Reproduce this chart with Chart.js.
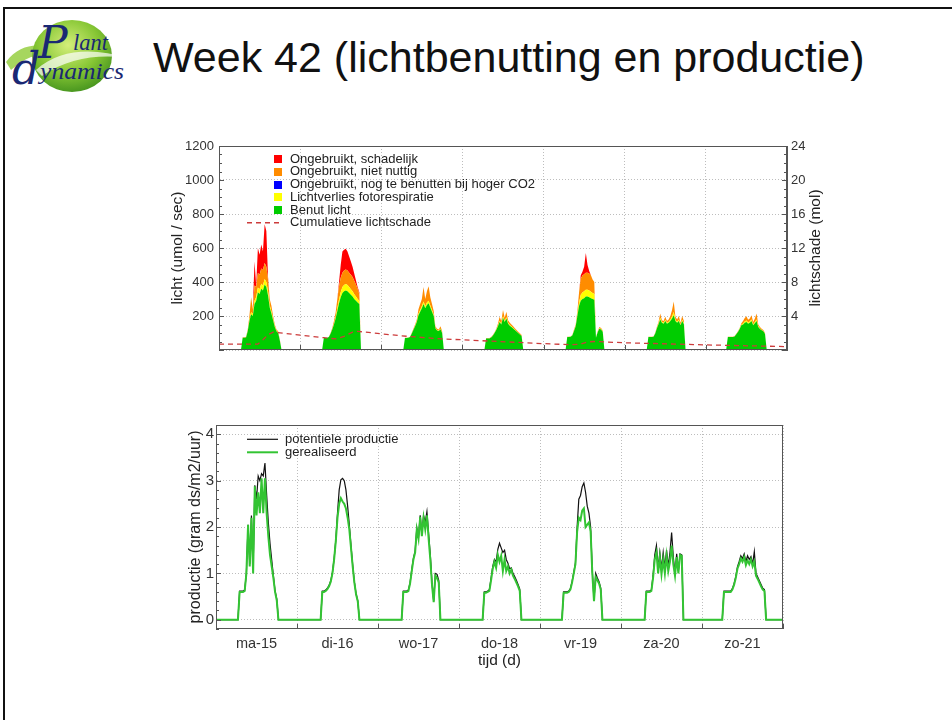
<!DOCTYPE html>
<html>
<head>
<meta charset="utf-8">
<title>Week 42 (lichtbenutting en productie)</title>
<script src="https://cdn.jsdelivr.net/npm/chart.js@4/dist/chart.umd.min.js"></script>
<style>
  body { margin: 0; background: #fff; font-family: 'Liberation Sans', Arial, sans-serif; }
  #slide { position: relative; width: 952px; height: 720px; overflow: hidden; background: #fff; }
  #edge { position: absolute; left: 3px; top: 7px; width: 980px; height: 760px; border-top: 2px solid #111; border-left: 2px solid #111; }
  #logo { position: absolute; left: 6px; top: 18px; }
  h1 { position: absolute; left: 153px; top: 36px; margin: 0; font-weight: normal; font-size: 43px; line-height: 43px; color: #111; white-space: nowrap; }
  canvas { position: absolute; }
  #lightChart { left: 150px; top: 128px; }
  #prodChart { left: 150px; top: 413px; }
</style>
</head>
<body>
<div id="slide">
  <div id="edge"></div>
  <svg id="logo" width="125" height="80" viewBox="0 0 125 80">
    <defs>
      <radialGradient id="ball" cx="0.45" cy="0.35" r="0.7">
        <stop offset="0" stop-color="#d4ee7a"/>
        <stop offset="0.55" stop-color="#86c634"/>
        <stop offset="1" stop-color="#3f8f1c"/>
      </radialGradient>
    </defs>
    <path d="M0 44 C 18 20, 44 26, 62 38 C 44 33, 24 34, 5 52 Z" fill="#a6d65e"/>
    <ellipse cx="66" cy="38" rx="40" ry="36" fill="url(#ball)"/>
    <path d="M30 52 C 55 30, 88 30, 122 40 C 92 36, 62 40, 36 58 Z" fill="#fff" opacity="0.7"/>
    <text x="32" y="40" font-family="'DejaVu Serif', serif" font-style="italic" font-size="44" fill="#1a2873">P</text>
    <text x="67" y="32" font-family="'Liberation Serif', serif" font-style="italic" font-size="24" textLength="35" lengthAdjust="spacingAndGlyphs" fill="#1a2873">lant</text>
    <text x="6" y="66" font-family="'DejaVu Serif', serif" font-style="italic" font-size="44" fill="#1a2873">d</text>
    <text x="34" y="61" font-family="'Liberation Serif', serif" font-style="italic" font-size="24" textLength="84" lengthAdjust="spacingAndGlyphs" fill="#1a2873">ynamics</text>
  </svg>
  <h1>Week 42 (lichtbenutting en productie)</h1>
  <canvas id="lightChart" width="700" height="226"></canvas>
  <canvas id="prodChart" width="700" height="272"></canvas>
</div>
<script>
Chart.defaults.font.family = "'Liberation Sans', Arial, sans-serif";
Chart.defaults.color = '#333';

const dayLabels = ['ma-15', 'di-16', 'wo-17', 'do-18', 'vr-19', 'za-20', 'zo-21'];
const dayTicks = [12, 36, 60, 84, 108, 132, 156];
// half-hour readings per day, 6:00 .. 19:00
const dayHours = [6, 6.5, 7, 7.5, 8, 8.5, 9, 9.5, 10, 10.5, 11, 11.5, 12, 12.5, 13, 13.5, 14, 14.5, 15, 15.5, 16, 16.5, 17, 17.5, 18, 18.5, 19];

// licht (umol / sec), one row per day
const benutLicht = [
  [0, 0, 72, 72, 74, 110, 170, 210, 200, 270, 290, 340, 330, 360, 350, 385, 370, 320, 250, 215, 175, 135, 110, 100, 55, 0, 0],
  [0, 0, 70, 70, 72, 76, 95, 120, 150, 185, 230, 275, 310, 335, 345, 350, 345, 335, 325, 315, 300, 290, 280, 270, 0, 0, 0],
  [0, 0, 70, 70, 72, 76, 96, 118, 140, 165, 205, 225, 245, 270, 245, 265, 275, 250, 225, 200, 128, 115, 112, 122, 100, 0, 0],
  [0, 0, 68, 68, 68, 73, 84, 100, 118, 140, 165, 150, 190, 165, 185, 155, 143, 135, 127, 117, 109, 100, 91, 82, 0, 0, 0],
  [0, 0, 76, 76, 78, 85, 112, 140, 200, 260, 290, 300, 305, 315, 315, 310, 305, 300, 295, 72, 105, 125, 120, 108, 0, 0, 0],
  [0, 0, 76, 76, 76, 78, 96, 127, 152, 180, 160, 155, 170, 155, 160, 170, 185, 205, 170, 160, 170, 145, 170, 152, 0, 0, 0],
  [0, 76, 76, 76, 76, 80, 92, 106, 124, 145, 150, 160, 165, 155, 160, 170, 145, 158, 170, 135, 124, 116, 110, 94, 0, 0, 0]
];
const fotorespiratie = [
  [0, 0, 0, 0, 0, 2, 8, 12, 12, 20, 22, 28, 27, 30, 30, 32, 30, 25, 15, 12, 8, 5, 3, 2, 0, 0, 0],
  [0, 0, 0, 0, 0, 0, 0, 0, 5, 8, 15, 22, 30, 35, 38, 38, 37, 35, 32, 30, 28, 25, 20, 18, 0, 0, 0],
  [0, 0, 0, 0, 0, 0, 0, 0, 3, 5, 8, 10, 12, 15, 12, 15, 15, 12, 10, 8, 3, 2, 2, 3, 2, 0, 0],
  [0, 0, 0, 0, 0, 0, 0, 1, 2, 4, 6, 5, 8, 6, 8, 5, 4, 4, 3, 3, 2, 2, 2, 1, 0, 0, 0],
  [0, 0, 0, 0, 0, 0, 2, 3, 10, 20, 35, 38, 40, 40, 40, 40, 38, 36, 35, 0, 1, 3, 3, 2, 0, 0, 0],
  [0, 0, 0, 0, 0, 0, 0, 2, 4, 8, 5, 5, 7, 5, 6, 8, 12, 18, 7, 6, 8, 5, 8, 6, 0, 0, 0],
  [0, 0, 0, 0, 0, 0, 0, 0, 2, 4, 6, 8, 9, 7, 7, 9, 5, 7, 10, 4, 3, 2, 2, 1, 0, 0, 0]
];
const nietNuttig = [
  [0, 0, 3, 3, 4, 8, 22, 88, 28, 90, 60, 85, 85, 90, 90, 95, 90, 70, 35, 33, 17, 10, 7, 8, 5, 0, 0],
  [0, 0, 0, 0, 0, 2, 5, 10, 15, 27, 55, 80, 85, 85, 85, 85, 85, 85, 85, 85, 80, 70, 60, 42, 0, 0, 0],
  [0, 0, 2, 2, 2, 2, 4, 7, 7, 10, 27, 35, 43, 85, 43, 65, 85, 48, 35, 22, 9, 8, 6, 15, 8, 0, 0],
  [0, 0, 2, 2, 2, 3, 4, 4, 5, 11, 24, 15, 37, 19, 32, 15, 13, 11, 10, 8, 7, 6, 5, 5, 0, 0, 0],
  [0, 0, 2, 2, 2, 3, 6, 7, 20, 60, 95, 100, 100, 100, 100, 100, 97, 79, 70, 3, 4, 7, 7, 5, 0, 0, 0],
  [0, 0, 2, 2, 2, 2, 4, 6, 9, 27, 10, 10, 18, 10, 14, 22, 38, 62, 18, 14, 22, 10, 22, 12, 0, 0, 0],
  [0, 2, 2, 2, 2, 2, 3, 4, 4, 9, 14, 20, 24, 16, 18, 26, 15, 20, 35, 11, 8, 7, 6, 5, 0, 0, 0]
];
const schadelijk = [
  [0, 0, 0, 0, 0, 0, 0, 0, 0, 140, 8, 147, 118, 140, 110, 228, 210, 15, 0, 0, 0, 0, 0, 0, 0, 0, 0],
  [0, 0, 0, 0, 0, 0, 0, 0, 0, 0, 0, 23, 75, 125, 122, 122, 113, 95, 78, 60, 42, 25, 10, 10, 0, 0, 0],
  [0, 0, 0, 0, 0, 0, 0, 0, 0, 0, 0, 0, 0, 0, 0, 0, 0, 0, 0, 0, 0, 0, 0, 0, 0, 0, 0],
  [0, 0, 0, 0, 0, 0, 0, 0, 0, 0, 0, 0, 0, 0, 0, 0, 0, 0, 0, 0, 0, 0, 0, 0, 0, 0, 0],
  [0, 0, 0, 0, 0, 0, 0, 0, 0, 0, 20, 22, 45, 115, 45, 15, 0, 0, 0, 0, 0, 0, 0, 0, 0, 0, 0],
  [0, 0, 0, 0, 0, 0, 0, 0, 0, 0, 0, 0, 0, 0, 0, 0, 0, 0, 0, 0, 0, 0, 0, 0, 0, 0, 0],
  [0, 0, 0, 0, 0, 0, 0, 0, 0, 0, 0, 0, 0, 0, 0, 0, 0, 0, 0, 0, 0, 0, 0, 0, 0, 0, 0]
];

// cumulatieve lichtschade (mol), right axis
const schadeHours = [0, 11.5, 13, 14.5, 16, 24, 31, 34.5, 37, 39.5, 41, 48, 56, 66, 72, 96, 104, 107, 109, 111, 120, 144, 168];
const schadeValues = [0.7, 0.7, 1.2, 1.8, 2.1, 1.75, 1.45, 1.3, 1.6, 2.1, 2.2, 1.9, 1.6, 1.3, 1.2, 0.75, 0.62, 0.7, 0.95, 1.0, 0.85, 0.6, 0.4];

// productie (gram ds/m2/uur)
const potentieel = [
  [0, 0, 0.62, 0.62, 0.62, 0.64, 1.0, 2.05, 1.2, 2.25, 1.1, 2.9, 2.6, 3.1, 3.0, 3.15, 3.1, 3.38, 2.7, 2.1, 1.65, 1.3, 0.95, 0.62, 0.45, 0, 0],
  [0, 0, 0, 0.62, 0.62, 0.64, 0.68, 0.74, 0.84, 1.02, 1.32, 1.72, 2.3, 2.8, 3.02, 3.05, 3.0, 2.8, 2.45, 2.05, 1.6, 1.18, 0.82, 0.56, 0.41, 0, 0],
  [0, 0, 0, 0.62, 0.62, 0.62, 0.64, 0.8, 1.08, 1.33, 1.48, 1.98, 1.78, 2.25, 1.85, 2.25, 2.1, 2.33, 1.85, 1.4, 0.8, 0.4, 1.0, 0.98, 0.85, 0, 0],
  [0, 0, 0, 0.6, 0.6, 0.62, 0.65, 0.9, 1.15, 1.3, 1.25, 1.52, 1.65, 1.55, 1.45, 1.5, 1.3, 1.22, 1.1, 1.12, 1.0, 0.93, 0.85, 0.76, 0.66, 0, 0],
  [0, 0, 0.6, 0.6, 0.6, 0.62, 0.67, 0.82, 1.02, 1.22, 2.0, 2.6, 2.68, 2.87, 2.95, 2.75, 2.45, 2.3, 2.0, 1.05, 0.42, 1.0, 0.9, 0.82, 0.68, 0, 0],
  [0, 0, 0, 0.62, 0.62, 0.62, 0.64, 0.95, 1.4, 1.6, 1.1, 1.45, 1.1, 1.45, 1.12, 1.5, 1.15, 1.45, 1.88, 1.35, 1.0, 1.42, 1.05, 1.42, 1.4, 0, 0],
  [0, 0.62, 0.62, 0.62, 0.62, 0.62, 0.67, 0.78, 0.93, 1.14, 1.25, 1.38, 1.32, 1.42, 1.25, 1.38, 1.3, 1.36, 1.2, 1.47, 1.0, 0.92, 0.84, 0.76, 0.68, 0.65, 0]
];
const gerealiseerd = [
  [0, 0, 0.6, 0.6, 0.6, 0.62, 1.0, 2.05, 1.15, 2.2, 1.0, 2.88, 2.25, 2.75, 2.3, 3.05, 2.3, 3.05, 2.3, 1.8, 1.4, 1.15, 0.9, 0.6, 0.42, 0, 0],
  [0, 0, 0, 0.6, 0.6, 0.62, 0.66, 0.72, 0.82, 1.0, 1.3, 1.7, 2.2, 2.5, 2.62, 2.55, 2.5, 2.4, 2.2, 1.95, 1.55, 1.15, 0.8, 0.55, 0.4, 0, 0],
  [0, 0, 0, 0.6, 0.6, 0.6, 0.62, 0.78, 1.05, 1.3, 1.45, 1.95, 1.75, 2.22, 1.8, 2.2, 1.95, 2.25, 1.75, 1.3, 0.75, 0.38, 0.95, 0.9, 0.8, 0, 0],
  [0, 0, 0, 0.58, 0.58, 0.6, 0.62, 0.85, 1.1, 1.25, 1.12, 1.4, 1.25, 1.38, 1.05, 1.3, 1.05, 1.15, 1.0, 1.08, 0.95, 0.88, 0.8, 0.72, 0.62, 0, 0],
  [0, 0, 0.58, 0.58, 0.58, 0.6, 0.65, 0.8, 1.0, 1.2, 1.9, 2.2, 2.15, 2.35, 2.4, 2.0, 2.05, 2.1, 1.9, 1.0, 0.4, 0.92, 0.85, 0.78, 0.65, 0, 0],
  [0, 0, 0, 0.6, 0.6, 0.6, 0.62, 0.9, 1.3, 1.45, 1.0, 1.35, 0.98, 1.3, 1.0, 1.38, 1.05, 1.25, 1.6, 1.2, 0.95, 1.35, 1.0, 1.4, 1.38, 0, 0],
  [0, 0.6, 0.6, 0.6, 0.6, 0.6, 0.65, 0.75, 0.9, 1.1, 1.2, 1.32, 1.25, 1.35, 1.18, 1.28, 1.2, 1.3, 1.15, 1.25, 0.95, 0.88, 0.8, 0.72, 0.65, 0.62, 0]
];

const gridColor = '#bdbdbd';
const frameColor = '#555';
const textColor = '#222';

// turn the per-day rows into {x: hour of week, y} points
function daySeries(rows) {
  const pts = [{ x: 0, y: 0 }];
  rows.forEach((row, d) => {
    row.forEach((v, i) => pts.push({ x: d * 24 + dayHours[i], y: v }));
  });
  pts.push({ x: 168, y: 0 });
  return pts;
}

// fixed axis box so both plots line up with the slide
function fixBox(size) {
  return scale => {
    if (scale.isHorizontal()) scale.height = size; else scale.width = size;
    scale.paddingTop = 0;
    scale.paddingBottom = 0;
    scale.paddingLeft = 0;
    scale.paddingRight = 0;
  };
}

const axisFrame = {
  id: 'axisFrame',
  afterDatasetsDraw(chart, args, opts) {
    const { ctx, chartArea: a, scales } = chart;
    ctx.save();
    ctx.strokeStyle = opts.color;
    ctx.lineWidth = 1;
    ctx.strokeRect(Math.round(a.left) + 0.5, Math.round(a.top) + 0.5, Math.round(a.right - a.left) - 1, Math.round(a.bottom - a.top) - 1);
    ctx.beginPath();
    opts.marks.forEach(m => {
      const s = scales[m.axis];
      const n = Math.round((s.max - s.min) / m.step);
      for (let k = 0; k <= n; k++) {
        const v = s.min + k * m.step;
        const major = Math.abs(v / m.major - Math.round(v / m.major)) < 1e-6;
        const len = major ? m.long : m.short;
        const p = Math.round(s.getPixelForValue(v)) + 0.5;
        if (m.side === 'left') { ctx.moveTo(a.left, p); ctx.lineTo(a.left + len, p); }
        if (m.side === 'right') { ctx.moveTo(a.right, p); ctx.lineTo(a.right - len, p); }
        if (m.side === 'bottom') { ctx.moveTo(p, a.bottom); ctx.lineTo(p, a.bottom - len); }
      }
    });
    ctx.stroke();
    ctx.restore();
  }
};

const inLegend = {
  id: 'inLegend',
  afterDraw(chart, args, opts) {
    const { ctx, chartArea: a } = chart;
    ctx.save();
    ctx.font = opts.font;
    ctx.textBaseline = 'middle';
    opts.order.forEach((idx, row) => {
      const ds = chart.data.datasets[idx];
      const y = a.top + opts.top + row * opts.rowHeight;
      if (ds.marker === 'box') {
        ctx.fillStyle = ds.backgroundColor;
        ctx.fillRect(a.left + opts.boxX, Math.round(y - opts.box / 2), opts.box, opts.box);
      } else {
        ctx.strokeStyle = ds.borderColor;
        ctx.lineWidth = ds.borderWidth;
        ctx.setLineDash(ds.borderDash || []);
        ctx.beginPath();
        ctx.moveTo(a.left + opts.lineX0, y);
        ctx.lineTo(a.left + opts.lineX1, y);
        ctx.stroke();
        ctx.setLineDash([]);
      }
      ctx.fillStyle = textColor;
      ctx.fillText(ds.label, a.left + opts.textX, y);
    });
    ctx.restore();
  }
};

// right hand axis title, reading bottom to top like the left one
const sideTitle = {
  id: 'sideTitle',
  afterDraw(chart, args, opts) {
    if (!opts.text) return;
    const { ctx, chartArea: a } = chart;
    ctx.save();
    ctx.translate(a.right + opts.offset, (a.top + a.bottom) / 2);
    ctx.rotate(-Math.PI / 2);
    ctx.font = opts.font;
    ctx.fillStyle = textColor;
    ctx.textAlign = 'center';
    ctx.textBaseline = 'middle';
    ctx.fillText(opts.text, 0, 0);
    ctx.restore();
  }
};

new Chart(document.getElementById('lightChart'), {
  type: 'line',
  data: {
    datasets: [
      { label: 'Benut licht', data: daySeries(benutLicht), backgroundColor: '#00cc00', fill: 'origin', marker: 'box' },
      { label: 'Lichtverlies fotorespiratie', data: daySeries(fotorespiratie), backgroundColor: '#ffff00', fill: '-1', marker: 'box' },
      { label: 'Ongebruikt, niet nuttig', data: daySeries(nietNuttig), backgroundColor: '#ff8c00', fill: '-1', marker: 'box' },
      { label: 'Ongebruikt, schadelijk', data: daySeries(schadelijk), backgroundColor: '#ff0000', fill: '-1', marker: 'box' },
      {
        label: 'Cumulatieve lichtschade',
        data: schadeHours.map((h, i) => ({ x: h, y: schadeValues[i] })),
        yAxisID: 'y2', order: -1, fill: false,
        borderColor: '#cc3b3b', borderWidth: 1.3, borderDash: [5, 4], marker: 'line'
      },
      { label: 'Ongebruikt, nog te benutten bij hoger CO2', data: [], backgroundColor: '#0000ff', fill: false, marker: 'box' }
    ]
  },
  options: {
    responsive: false,
    animation: false,
    events: [],
    layout: { padding: { top: 18, left: 0, right: 0, bottom: 0 } },
    elements: { point: { radius: 0 }, line: { borderWidth: 0, tension: 0 } },
    plugins: {
      legend: { display: false },
      tooltip: { enabled: false },
      axisFrame: {
        color: frameColor,
        marks: [
          { axis: 'y', step: 50, major: 200, side: 'left', short: 3, long: 5 },
          { axis: 'y2', step: 1, major: 4, side: 'right', short: 3, long: 5 },
          { axis: 'x', step: 24, major: 24, side: 'bottom', short: 5, long: 5 }
        ]
      },
      inLegend: {
        order: [3, 2, 5, 1, 0, 4], top: 13, rowHeight: 12.75,
        boxX: 55, box: 8, lineX0: 28, lineX1: 62, textX: 71,
        font: "13px 'Liberation Sans', Arial, sans-serif"
      },
      sideTitle: { text: 'lichtschade (mol)', offset: 29, font: "15.5px 'Liberation Sans', Arial, sans-serif" }
    },
    scales: {
      x: {
        type: 'linear', min: 0, max: 168, afterFit: fixBox(4),
        ticks: { display: false, stepSize: 24 },
        grid: { color: gridColor, drawTicks: false },
        border: { display: false, dash: [1, 2] }
      },
      y: {
        stacked: true, min: 0, max: 1200, afterFit: fixBox(69),
        ticks: { stepSize: 200, padding: 5, font: { size: 13 }, callback: v => v === 0 ? '' : v },
        grid: { color: gridColor, drawTicks: false },
        border: { color: frameColor, dash: [1, 2] },
        title: { display: true, text: 'licht (umol / sec)', color: textColor, font: { size: 15.5 }, padding: 18.7 }
      },
      y2: {
        position: 'right', min: 0, max: 24, afterFit: fixBox(63),
        ticks: { stepSize: 4, padding: 4, font: { size: 13 }, callback: v => v === 0 ? '' : v },
        grid: { drawOnChartArea: false, drawTicks: false },
        border: { color: frameColor }
      }
    }
  },
  plugins: [axisFrame, inLegend, sideTitle]
});

new Chart(document.getElementById('prodChart'), {
  type: 'line',
  data: {
    datasets: [
      { label: 'potentiele productie', data: daySeries(potentieel), borderColor: '#111', borderWidth: 1.2, order: 1, fill: false, marker: 'line' },
      { label: 'gerealiseerd', data: daySeries(gerealiseerd), borderColor: '#33c433', borderWidth: 2, order: 0, fill: false, marker: 'line' }
    ]
  },
  options: {
    responsive: false,
    animation: false,
    events: [],
    layout: { padding: { top: 12, left: 0, right: 67, bottom: 0 } },
    elements: { point: { radius: 0 }, line: { tension: 0 } },
    plugins: {
      legend: { display: false },
      tooltip: { enabled: false },
      axisFrame: {
        color: frameColor,
        marks: [
          { axis: 'y', step: 0.2, major: 1, side: 'left', short: 3, long: 5 },
          { axis: 'x', step: 24, major: 24, side: 'bottom', short: 5, long: 5 }
        ]
      },
      inLegend: {
        order: [0, 1], top: 14.3, rowHeight: 13,
        lineX0: 31, lineX1: 62, textX: 69,
        font: "13px 'Liberation Sans', Arial, sans-serif"
      },
      sideTitle: {}
    },
    scales: {
      x: {
        type: 'linear', min: 0, max: 168, afterFit: fixBox(0),
        ticks: { display: false, stepSize: 24 },
        grid: { color: gridColor, drawTicks: false },
        border: { display: false, dash: [1, 2] }
      },
      xd: {
        type: 'linear', position: 'bottom', min: 0, max: 168, afterFit: fixBox(56),
        afterBuildTicks: scale => { scale.ticks = dayTicks.map(v => ({ value: v })); },
        ticks: { autoSkip: false, maxRotation: 0, padding: 6, font: { size: 14.5 }, callback: (v, i) => dayLabels[i] },
        grid: { display: false, drawTicks: false },
        border: { display: false },
        title: { display: true, text: 'tijd (d)', color: textColor, font: { size: 15.5 }, padding: 14.5 }
      },
      y: {
        min: -0.2, max: 4.2, afterFit: fixBox(66),
        ticks: { stepSize: 1, includeBounds: false, padding: 2, font: { size: 15 } },
        grid: { color: gridColor, drawTicks: false },
        border: { color: frameColor, dash: [1, 2] },
        title: { display: true, text: 'productie (gram ds/m2/uur)', color: textColor, font: { size: 16 }, padding: 36.4 }
      }
    }
  },
  plugins: [axisFrame, inLegend, sideTitle]
});
</script>
</body>
</html>
